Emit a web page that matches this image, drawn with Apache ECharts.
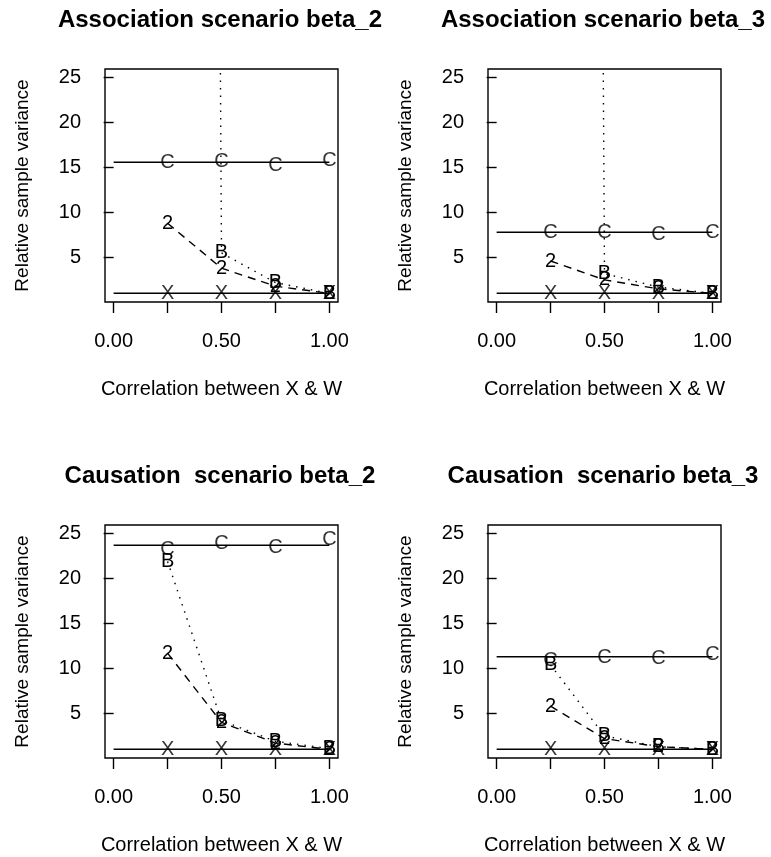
<!DOCTYPE html>
<html>
<head>
<meta charset="utf-8">
<script src="https://cdn.jsdelivr.net/npm/echarts@6/dist/echarts.min.js"></script>
<style>
  html, body { margin: 0; padding: 0; background: #fff; }
  #main { width: 771px; height: 857px; }
</style>
</head>
<body>
<div id="main"></div>
<script>
// correlation levels where the simulations were run
var corrX = [0.25, 0.5, 0.75, 1.0];
var panelTitles = [
  "Association scenario beta_2",
  "Association scenario beta_3",
  "Causation  scenario beta_2",
  "Causation  scenario beta_3"
];
// series values per panel (C, 2, B, X)
var valC = [
  [15.6, 15.7, 15.2, 15.8],
  [7.8, 7.8, 7.6, 7.8],
  [23.2, 23.9, 23.5, 24.3],
  [10.9, 11.2, 11.1, 11.6]
];
var val2 = [
  [8.8, 3.8, 1.8, 1.0],
  [4.6, 2.5, 1.5, 1.0],
  [11.7, 4.0, 1.7, 1.0],
  [5.8, 2.2, 1.3, 1.0]
];
// first B value in the association panels is far above the plot
var valB = [
  [1000, 5.5, 2.2, 1.0],
  [1000, 3.2, 1.7, 1.0],
  [21.9, 4.2, 1.9, 1.1],
  [10.4, 2.5, 1.3, 1.0]
];
var valX = [
  [1, 1, 1, 1],
  [1, 1, 1, 1],
  [1, 1, 1, 1],
  [1, 1, 1, 1]
];
// horizontal reference levels
var refC = [15.6, 7.8, 23.7, 11.3];
var refX = [1, 1, 1, 1];
var refRange = [0, 1];
var xTicks = [0, 0.25, 0.5, 0.75, 1];
var xTickLabels = [0, 0.5, 1];
var yTicks = [5, 10, 15, 20, 25];

var FONT = "Liberation Sans, Arial, Helvetica, sans-serif";
var myChart = echarts.init(document.getElementById("main"));

var gridPos = [
  { left: 105, top: 69 },
  { left: 488, top: 69 },
  { left: 105, top: 525 },
  { left: 488, top: 525 }
];
var grid = [], xAxis = [], yAxis = [], title = [], series = [];

function markerSeries(i, vals, ch, dash) {
  var s = {
    type: dash ? "line" : "scatter",
    xAxisIndex: i,
    yAxisIndex: i,
    data: corrX.map(function (x, j) { return [x, vals[j]]; }),
    symbol: "circle",
    symbolSize: 2,
    showSymbol: true,
    itemStyle: { color: "rgba(0,0,0,0)" },
    label: {
      show: true,
      position: "inside",
      formatter: ch,
      color: "#000",
      fontFamily: FONT,
      fontSize: 20
    },
    clip: true,
    z: 3
  };
  if (dash) {
    s.lineStyle = { color: "#000", width: 1.4, type: dash };
  }
  return s;
}

function refSeries(i, v) {
  return {
    type: "line",
    xAxisIndex: i,
    yAxisIndex: i,
    data: refRange.map(function (x) { return [x, v]; }),
    showSymbol: false,
    symbol: "none",
    lineStyle: { color: "#000", width: 1.5 },
    z: 2
  };
}

for (var i = 0; i < 4; i++) {
  grid.push({
    left: gridPos[i].left,
    top: gridPos[i].top,
    width: 233,
    height: 233,
    show: true,
    borderColor: "#000",
    borderWidth: 1.4,
    backgroundColor: "transparent"
  });
  xAxis.push({
    type: "value",
    gridIndex: i,
    min: -0.04,
    max: 1.04,
    name: "Correlation between X & W",
    nameLocation: "middle",
    nameGap: 77,
    nameTextStyle: { color: "#000", fontFamily: FONT, fontSize: 20 },
    axisLine: { show: false },
    axisTick: {
      show: true,
      inside: false,
      length: 11,
      customValues: xTicks,
      lineStyle: { color: "#000", width: 1.4 }
    },
    axisLabel: {
      show: true,
      margin: 29,
      customValues: xTickLabels,
      formatter: function (v) { return v.toFixed(2); },
      color: "#000",
      fontFamily: FONT,
      fontSize: 20
    },
    splitLine: { show: false }
  });
  yAxis.push({
    type: "value",
    gridIndex: i,
    min: 0.04,
    max: 25.96,
    name: "Relative sample variance",
    nameLocation: "middle",
    nameGap: 73,
    nameRotate: 90,
    nameTextStyle: { color: "#000", fontFamily: FONT, fontSize: 19 },
    axisLine: { show: false },
    axisTick: {
      show: true,
      inside: false,
      length: 10,
      customValues: yTicks,
      lineStyle: { color: "#000", width: 1.4 }
    },
    axisLabel: {
      show: true,
      margin: 24,
      customValues: yTicks,
      color: "#000",
      fontFamily: FONT,
      fontSize: 20
    },
    splitLine: { show: false }
  });
  title.push({
    text: panelTitles[i],
    left: gridPos[i].left + 115,
    top: gridPos[i].top - 61,
    textAlign: "center",
    padding: 0,
    textStyle: { color: "#000", fontFamily: FONT, fontSize: 24, fontWeight: "bold" }
  });

  series.push(refSeries(i, refC[i]));
  series.push(refSeries(i, refX[i]));
  series.push(markerSeries(i, valC[i], "C", null));
  series.push(markerSeries(i, valX[i], "X", null));
  series.push(markerSeries(i, val2[i], "2", [8, 6]));
  series.push(markerSeries(i, valB[i], "B", [1.5, 6]));
}

var option = {
  animation: false,
  backgroundColor: "#fff",
  title: title,
  grid: grid,
  xAxis: xAxis,
  yAxis: yAxis,
  series: series
};
myChart.setOption(option, true);
</script>
</body>
</html>
